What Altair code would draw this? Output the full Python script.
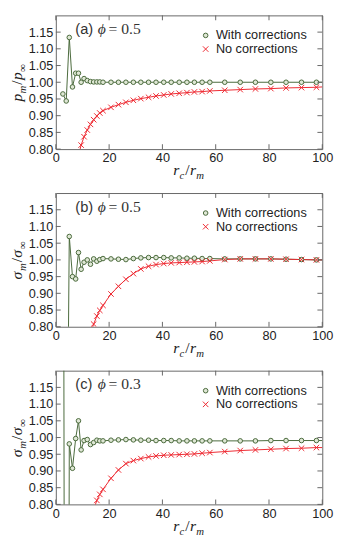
import altair as alt
import pandas as pd

# ---------------- data ----------------
X = [2.65, 3.9, 5.05, 6.25, 7.45, 8.5, 9.5, 10.6, 11.8, 13.0, 14.2, 15.4, 16.5, 17.7,
     20.7, 23.5, 26.3, 29.1, 31.9, 34.8, 37.6, 40.5, 43.3, 46.3, 49.2, 52.0, 54.9, 57.8,
     63.4, 69.2, 74.9, 80.7, 86.4, 92.2, 97.8]

A_WITH = [0.965, 0.944, 1.134, 0.986, 1.027, 1.027, 1.000, 1.011, 1.005, 1.002, 1.001, 1.001, 1.001, 1.000,
          1.000, 1.000, 1.000, 1.000, 1.000, 1.000, 1.000, 1.000, 1.000, 1.000, 1.000, 1.000, 1.000, 1.000,
          1.000, 1.000, 1.000, 1.000, 1.000, 1.000, 1.000]
A_NO = [None, None, None, None, None,
        0.780, 0.812, 0.837, 0.857, 0.874, 0.888, 0.899, 0.908, 0.915,
        0.925, 0.933, 0.940, 0.946, 0.951, 0.955, 0.959, 0.962, 0.965, 0.967, 0.969, 0.971, 0.972, 0.974,
        0.976, 0.978, 0.980, 0.981, 0.983, 0.984, 0.985]

B_WITH = [None, 0.0, 1.070, 0.950, 0.943, 1.022, 0.972, 0.993, 1.000, 0.987, 1.003, 0.996, 1.001, 1.004,
          1.003, 1.002, 1.001, 1.004, 1.006, 1.007, 1.007, 1.007, 1.006, 1.006, 1.005, 1.005, 1.004, 1.004,
          1.003, 1.003, 1.003, 1.003, 1.002, 1.001, 1.000]
B_NO = [None, None, None, None, None, None, None, None, None,
        0.780, 0.808, 0.832, 0.849, 0.864,
        0.898, 0.921, 0.942, 0.959, 0.973, 0.981, 0.986, 0.989, 0.991, 0.992, 0.993, 0.994, 0.995, 0.997,
        1.001, 1.003, 1.003, 1.003, 1.002, 1.001, 1.000]

C_WITH = [3.0, -3.0, 0.981, 0.908, 0.997, 1.050, 0.963, 0.991, 0.994, 0.979, 0.985, 0.992, 0.990, 0.990,
          0.992, 0.993, 0.994, 0.993, 0.992, 0.992, 0.991, 0.991, 0.991, 0.990, 0.990, 0.990, 0.990, 0.990,
          0.990, 0.990, 0.990, 0.991, 0.991, 0.991, 0.991]
C_NO = [None, None, None, None, None, None, None, None, None, None,
        0.785, 0.812, 0.830, 0.845,
        0.878, 0.903, 0.922, 0.931, 0.937, 0.942, 0.945, 0.947, 0.948, 0.949, 0.950, 0.951, 0.953, 0.955,
        0.958, 0.961, 0.963, 0.965, 0.967, 0.968, 0.970]

# value of each curve where it meets the right frame (x = 100)
LINE_END_X = 100.0
A_END = [1.000, 0.986]
B_END = [1.000, 1.000]
C_END = [0.991, 0.970]

SERIES = ["With corrections", "No corrections"]
PANEL_TAGS = ["(a)", "(b)", "(c)"]
PHI_VALUES = ["0.5", "0.5", "0.3"]
Y_SYMBOLS = ["p", "σ", "σ"]
X_TICKS = [0, 20, 40, 60, 80, 100]
Y_TICKS = [0.80, 0.85, 0.90, 0.95, 1.00, 1.05, 1.10, 1.15]

# ---------------- styling ----------------
W, H = 273, 137
GREEN = "#48683a"
GREEN_FILL = "#dfe7d5"
RED = "#ee2830"
FRAME = "#666666"
TEXT = "#222222"
SANS = "Liberation Sans"
SERIF = "Liberation Serif, DejaVu Serif"
CROSS = "M-1.2,-1.2L1.2,1.2M-1.2,1.2L1.2,-1.2"
MAIN_FS, SUB_FS = 16, 11
EM = {"r": 0.389, "c": 0.444, "m": 0.722, "/": 0.278, "p": 0.5, "σ": 0.52, "∞": 0.75}

XS = alt.Scale(domain=[0, 100], nice=False, zero=False)
YS = alt.Scale(domain=[0.8, 1.2], nice=False, zero=False)
XAX = alt.Axis(values=X_TICKS, format="d", title=None, domain=False, ticks=False, grid=False,
               labelPadding=3, labelFlush=False)
YAX = alt.Axis(values=Y_TICKS, format=".2f", title=None, domain=False, ticks=False, grid=False,
               labelPadding=3)


def piece(txt, px, py, fs, italic, angle=0, font=SERIF, color=TEXT):
    kw = dict(font=font, fontSize=fs, align="left", baseline="alphabetic", color=color)
    if italic:
        kw["fontStyle"] = "italic"
    if angle:
        kw["angle"] = angle
    return alt.Chart(pd.DataFrame({"s": [txt]})).mark_text(**kw).encode(
        text="s:N", x=alt.value(px), y=alt.value(py))


def math_parts(sym_main, sym_sub1, sym_sub2):
    # (char, is_sub, italic)
    return [(sym_main, False, True), (sym_sub1, True, True), ("/", False, False),
            (sym_main, False, True), (sym_sub2, True, sym_sub2 != "∞")]


def width_of(parts):
    tot = 0
    for ch, sub, _ in parts:
        tot += EM[ch] * (SUB_FS if sub else MAIN_FS) + (1.0 if sub else 0.3)
    return tot


def panel(idx, with_vals, no_vals, ends):
    rows = []
    for s, vals in zip(SERIES, [with_vals, no_vals]):
        for x, v in zip(X, vals):
            if v is not None:
                rows.append({"x": x, "y": v, "series": s})
    df = pd.DataFrame(rows)

    layers = []
    # curves
    for s, col, end in zip(SERIES, [GREEN, RED], ends):
        d = df[df.series == s][["x", "y"]]
        d = pd.concat([d, pd.DataFrame({"x": [LINE_END_X], "y": [end]})], ignore_index=True)
        layers.append(alt.Chart(d).mark_line(color=col, strokeWidth=1, clip=True).encode(
            x=alt.X("x:Q", scale=XS, axis=XAX), y=alt.Y("y:Q", scale=YS, axis=YAX)))

    # markers + legend
    leg = alt.Legend(title=None, orient="none", legendX=W - 126, legendY=14,
                     labelFontSize=13, labelFont=SANS, labelColor=TEXT, rowPadding=0,
                     padding=0, symbolSize=22, symbolStrokeWidth=1, labelOffset=4)
    layers.append(alt.Chart(df).mark_point(clip=True, size=22, strokeWidth=1, opacity=1, filled=False).encode(
        x=alt.X("x:Q", scale=XS, axis=XAX),
        y=alt.Y("y:Q", scale=YS, axis=YAX),
        stroke=alt.Stroke("series:N", scale=alt.Scale(domain=SERIES, range=[GREEN, RED]), legend=leg),
        fill=alt.Fill("series:N", scale=alt.Scale(domain=SERIES, range=[GREEN_FILL, "transparent"]), legend=leg),
        shape=alt.Shape("series:N", scale=alt.Scale(domain=SERIES, range=["circle", CROSS]), legend=leg),
    ))

    # inward ticks on all four sides
    xt = pd.DataFrame({"x": X_TICKS})
    yt = pd.DataFrame({"y": Y_TICKS})
    for y0, y1 in [(H, H - 5), (0, 5)]:
        layers.append(alt.Chart(xt).mark_rule(color=FRAME, strokeWidth=1).encode(
            x=alt.X("x:Q", scale=XS, axis=XAX), y=alt.value(y0), y2=alt.value(y1)))
    for x0, x1 in [(0, 5), (W, W - 5)]:
        layers.append(alt.Chart(yt).mark_rule(color=FRAME, strokeWidth=1).encode(
            y=alt.Y("y:Q", scale=YS, axis=YAX), x=alt.value(x0), x2=alt.value(x1)))

    # panel tag "(a) ϕ = 0.5"
    layers.append(piece(PANEL_TAGS[idx], 20, 19, 15, False, font=SANS, color="#333333"))
    layers.append(piece("ϕ", 43, 19, 16, True, color="#333333"))
    layers.append(piece("= " + PHI_VALUES[idx], 54, 19, 16, False, color="#333333"))

    # x title r_c / r_m
    xparts = math_parts("r", "c", "m")
    cur = W / 2 - width_of(xparts) / 2
    for ch, sub, it in xparts:
        fs = SUB_FS if sub else MAIN_FS
        layers.append(piece(ch, cur, H + (31 if sub else 27), fs, it))
        cur += EM[ch] * fs + (1.0 if sub else 0.3)

    # y title (rotated)  p_m / p_inf   or  sigma_m / sigma_inf
    yparts = math_parts(Y_SYMBOLS[idx], "m", "∞")
    cur = H / 2 + width_of(yparts) / 2
    for ch, sub, it in yparts:
        fs = SUB_FS if sub else MAIN_FS
        layers.append(piece(ch, -31 if sub else -35, cur, fs, it, angle=270))
        cur -= EM[ch] * fs + (1.0 if sub else 0.3)

    return alt.layer(*layers).properties(width=W, height=H)


pa = panel(0, A_WITH, A_NO, A_END)
pb = panel(1, B_WITH, B_NO, B_END)
pc = panel(2, C_WITH, C_NO, C_END)

chart = alt.vconcat(pa, pb, pc, spacing=45, bounds="flush", padding=0).resolve_scale(
    stroke="independent", fill="independent", shape="independent"
).configure_view(stroke=FRAME, strokeWidth=1).configure_axis(
    labelFont=SANS, labelFontSize=13, labelColor=TEXT
)

chart.save("out.html", embed_options={"renderer": "svg", "actions": False})
